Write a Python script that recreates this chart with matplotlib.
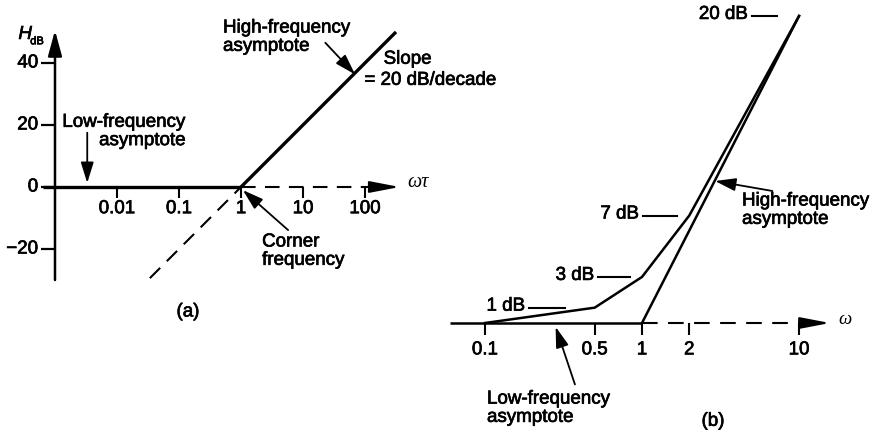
import matplotlib
matplotlib.use("Agg")
import matplotlib.pyplot as plt
import matplotlib.patheffects as pe

plt.rcParams["font.family"] = ["Liberation Sans", "DejaVu Sans"]

# (a) Bode magnitude asymptotes, H_dB against log(omega*tau)
a_ticks = [0.01, 0.1, 1, 10, 100]
a_tick_labels = ["0.01", "0.1", "1", "10", "100"]
a_yticks = [40, 20, 0, -20]
a_ytick_labels = ["40", "20", "0", "\u221220"]
a_low_w = [10 ** -3.2, 1]
a_low_h = [0, 0]
a_high_w = [1, 10 ** 2.5]
a_high_h = [0, 50]
a_ext_w = [10 ** -1.47, 1]
a_ext_h = [-29.4, 0]

# (b) actual curve vs. asymptotes near the corner frequency
b_ticks = [0.1, 0.5, 1, 2, 10]
b_tick_labels = ["0.1", "0.5", "1", "2", "10"]
b_curve_w = [0.1, 0.5, 1, 2, 10]
b_curve_h = [0, 1, 3, 7, 20]
b_low_w = [10 ** -1.223, 1]
b_low_h = [0, 0]
b_high_w = [1, 10]
b_high_h = [0, 20]
b_levels = [1, 3, 7, 20]
b_level_labels = ["1 dB", "3 dB", "7 dB", "20 dB"]
b_level_dash = [(-0.72, -0.49), (-0.28, -0.076), (0.006, 0.223), (0.70, 0.86)]

FS = 13.5
K = "black"
# a thin outline gives the lettering a heavier, printed look
BOLDISH = [pe.withStroke(linewidth=0.5, foreground=K)]


def L(u):
    return 10 ** u


def label(ax, x, y, s, **kw):
    kw.setdefault("fontsize", FS)
    return ax.text(x, y, s, path_effects=BOLDISH, **kw)


def arrow(ax, tail, head, lw=1.3, hl=0.9, hw=0.28, ms=14):
    ax.annotate("", xy=head, xytext=tail,
                arrowprops=dict(arrowstyle=f"-|>,head_length={hl},head_width={hw}",
                                lw=lw, color=K, mutation_scale=ms,
                                shrinkA=0, shrinkB=0))


fig = plt.figure(figsize=(8.73, 4.36), dpi=100)
ax_a = fig.add_axes([0, 0, 430 / 873, 1])
ax_b = fig.add_axes([430 / 873, 0, 443 / 873, 1])
for ax in (ax_a, ax_b):
    ax.set_xscale("log")
    ax.set_axis_off()
ax_a.set_xlim(L(-3.887), L(3.048))
ax_a.set_ylim(-80.3, 60.3)
ax_b.set_xlim(L(-1.350), L(1.471))
ax_b.set_ylim(-7.36, 21.04)

# ---- panel (a) ----
yax = L(-3.0)
arrow(ax_a, (yax, -30), (yax, 50.5), lw=1.8, hl=1.1, hw=0.3, ms=14)
for v, lab in zip(a_yticks, a_ytick_labels):
    ax_a.plot([L(-3.22), yax], [v, v], color=K, lw=1.6, solid_capstyle="butt")
    label(ax_a, L(-3.27), v, lab, ha="right", va="center")
label(ax_a, L(-3.59), 49.2, "H", fontstyle="italic", ha="left", va="center")
label(ax_a, L(-3.40), 47.0, "dB", fontsize=8, ha="left", va="center")

ax_a.plot(a_low_w, a_low_h, color=K, lw=2.4, solid_capstyle="butt")
ax_a.plot(a_high_w, a_high_h, color=K, lw=2.4, solid_capstyle="butt")
ax_a.plot(a_ext_w, a_ext_h, color=K, lw=1.5, ls=(0, (7, 4.5)))
ax_a.plot([1, L(2.3)], [0, 0], color=K, lw=1.5, ls=(0, (7, 4.5)))
arrow(ax_a, (L(2.25), 0), (L(2.56), 0), lw=1.5, hl=1.3, hw=0.25, ms=14)
ax_a.text(L(2.68), 1.5, "ωτ", fontsize=FS + 1, fontstyle="italic",
          family=["Liberation Serif", "DejaVu Serif"], ha="left", va="center")

for w, lab in zip(a_ticks, a_tick_labels):
    ax_a.plot([w, w], [0, -3.6], color=K, lw=1.5, solid_capstyle="butt")
    label(ax_a, w, -7.0, lab, ha="center", va="center")

label(ax_a, L(-0.29), 54.0, "High-frequency\nasymptote", ha="left", va="top",
      linespacing=1.1)
arrow(ax_a, (L(1.36), 46.5), (L(1.84), 36.3))
label(ax_a, L(2.30), 41.2, "Slope", ha="left", va="center")
label(ax_a, L(1.99), 34.4, "= 20 dB/decade", ha="left", va="center")

label(ax_a, L(-0.90), 23.6, "Low-frequency\nasymptote", ha="right", va="top",
      linespacing=1.1, multialignment="right")
arrow(ax_a, (L(-2.48), 17.5), (L(-2.48), 1.3))

label(ax_a, L(0.34), -15.0, "Corner\nfrequency", ha="left", va="top",
      linespacing=1.1)
arrow(ax_a, (L(0.76), -13.9), (L(0.03), -1.0))

label(ax_a, L(-0.855), -40.3, "(a)", ha="center", va="center")

# ---- panel (b) ----
ax_b.plot(b_low_w, b_low_h, color=K, lw=1.8, solid_capstyle="butt")
ax_b.plot([1, L(1.0)], [0, 0], color=K, lw=1.5, ls=(0, (7.5, 5)))
arrow(ax_b, (L(1.0), 0), (L(1.197), 0), lw=1.5, hl=1.3, hw=0.25, ms=14)
ax_b.text(L(1.25), 0.25, "ω", fontsize=FS, fontstyle="italic",
          family=["Liberation Serif", "DejaVu Serif"], ha="left", va="center")

ax_b.plot(b_high_w, b_high_h, color=K, lw=1.8)
ax_b.plot(b_curve_w, b_curve_h, color=K, lw=1.8)

for w, lab in zip(b_ticks, b_tick_labels):
    ax_b.plot([w, w], [0, -0.8], color=K, lw=1.5, solid_capstyle="butt")
    label(ax_b, w, -1.75, lab, ha="center", va="center")

for h, lab, (d0, d1) in zip(b_levels, b_level_labels, b_level_dash):
    ax_b.plot([L(d0), L(d1)], [h, h], color=K, lw=1.5)
    label(ax_b, L(d0 - 0.025), h + 0.1, lab, ha="right", va="center")

label(ax_b, L(0.637), 7.35, "High-frequency\nasymptote", ha="left", va="center",
      linespacing=1.1)
arrow(ax_b, (L(0.83), 8.6), (L(0.465), 9.25))

label(ax_b, L(-0.987), -5.55, "Low-frequency\nasymptote", ha="left", va="center",
      linespacing=1.1)
arrow(ax_b, (L(-0.427), -4.0), (L(-0.55), -0.25))

label(ax_b, L(0.452), -6.4, "(b)", ha="center", va="center")

fig.savefig("out.png", dpi=100, facecolor="white")
